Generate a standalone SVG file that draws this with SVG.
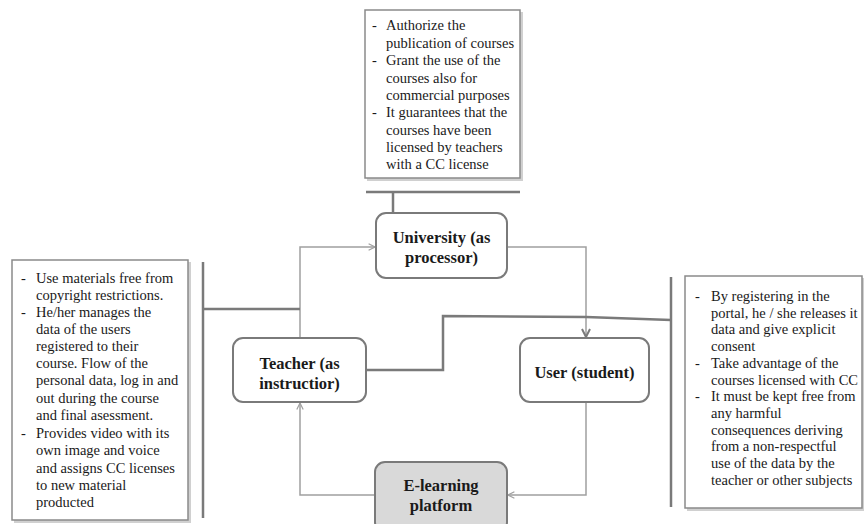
<svg xmlns="http://www.w3.org/2000/svg" width="864" height="524" viewBox="0 0 864 524">
<defs>
<style>
.box{fill:#fff;stroke:#8a8a8a;stroke-width:1.5}
.shadow{fill:#d0d0d0}
.node{fill:#fff;stroke:#7a7a7a;stroke-width:2}
.gray{fill:#d9d9d9;stroke:#7a7a7a;stroke-width:2}
.t{font-family:"Liberation Serif","Times New Roman",serif;font-size:14.5px;fill:#1a1a1a}
.n{font-family:"Liberation Serif","Times New Roman",serif;font-size:16.5px;font-weight:bold;fill:#1a1a1a;text-anchor:middle}
.thin{fill:none;stroke:#a0a0a0;stroke-width:1.5}
.thick{fill:none;stroke:#7a7a7a;stroke-width:2.5}
</style>
<marker id="arr" viewBox="0 0 10 10" refX="9" refY="5" markerWidth="8" markerHeight="8" markerUnits="userSpaceOnUse" orient="auto">
<path d="M1,1 L9,5 L1,9" fill="none" stroke="#a0a0a0" stroke-width="1.5"/>
</marker>
<marker id="arrD" viewBox="0 0 10 10" refX="9" refY="5" markerWidth="10" markerHeight="10" markerUnits="userSpaceOnUse" orient="auto">
<path d="M1,1 L9,5 L1,9" fill="none" stroke="#7a7a7a" stroke-width="2"/>
</marker>
</defs>
<rect width="864" height="524" fill="#fff"/>

<g id="connectors">
<polyline class="thin" points="300,338 300,247 375,247" marker-end="url(#arr)"/>
<polyline class="thin" points="507,247 586,247 586,337" marker-end="url(#arrD)"/>
<polyline class="thin" points="586,402 586,495 508,495" marker-end="url(#arr)"/>
<polyline class="thin" points="375,495 300,495 300,403" marker-end="url(#arr)"/>
<line class="thick" x1="366" y1="192" x2="520" y2="192"/>
<line class="thick" x1="393" y1="192" x2="393" y2="213"/>
<line class="thick" x1="203" y1="262" x2="203" y2="518"/>
<line class="thick" x1="203" y1="309" x2="300" y2="309"/>
<polyline class="thick" points="366,370 443,370 443,316 586,317 671,320"/>
<line class="thick" x1="671" y1="277" x2="671" y2="507"/>
</g>

<g id="note-university">
<rect class="shadow" x="367" y="12" width="156" height="169"/>
<rect class="box" x="365" y="10" width="155" height="168"/>
<text class="t" x="372" y="30">-</text><text class="t" x="386" y="30">Authorize the</text>
<text class="t" x="386" y="47.5">publication of courses</text>
<text class="t" x="372" y="65">-</text><text class="t" x="386" y="65">Grant the use of the</text>
<text class="t" x="386" y="82.5">courses also for</text>
<text class="t" x="386" y="100">commercial purposes</text>
<text class="t" x="372" y="117">-</text><text class="t" x="386" y="117">It guarantees that the</text>
<text class="t" x="386" y="134.5">courses have been</text>
<text class="t" x="386" y="152">licensed by teachers</text>
<text class="t" x="386" y="169">with a CC license</text>
</g>

<g id="note-teacher">
<rect class="shadow" x="14" y="262" width="177" height="261"/>
<rect class="box" x="12" y="260" width="176" height="260"/>
<text class="t" x="21" y="282.5">-</text><text class="t" x="36" y="282.5">Use materials free from</text>
<text class="t" x="36" y="299.5">copyright restrictions.</text>
<text class="t" x="21" y="316.5">-</text><text class="t" x="36" y="316.5">He/her manages the</text>
<text class="t" x="36" y="333.5">data of the users</text>
<text class="t" x="36" y="351">registered to their</text>
<text class="t" x="36" y="368">course. Flow of the</text>
<text class="t" x="36" y="385">personal data, log in and</text>
<text class="t" x="36" y="402.5">out during the course</text>
<text class="t" x="36" y="420">and final asessment.</text>
<text class="t" x="21" y="438">-</text><text class="t" x="36" y="438">Provides video with its</text>
<text class="t" x="36" y="455">own image and voice</text>
<text class="t" x="36" y="472.5">and assigns CC licenses</text>
<text class="t" x="36" y="489.5">to new material</text>
<text class="t" x="36" y="506.5">producted</text>
</g>

<g id="note-user">
<rect class="shadow" x="687" y="278" width="177" height="233"/>
<rect class="box" x="685" y="276" width="177" height="232"/>
<text class="t" x="695" y="301">-</text><text class="t" x="711" y="301">By registering in the</text>
<text class="t" x="711" y="317.5">portal, he / she releases it</text>
<text class="t" x="711" y="334">data and give explicit</text>
<text class="t" x="711" y="351">consent</text>
<text class="t" x="695" y="368">-</text><text class="t" x="711" y="368">Take advantage of the</text>
<text class="t" x="711" y="384.5">courses licensed with CC</text>
<text class="t" x="695" y="401">-</text><text class="t" x="711" y="401">It must be kept free from</text>
<text class="t" x="711" y="418">any harmful</text>
<text class="t" x="711" y="434.5">consequences deriving</text>
<text class="t" x="711" y="451">from a non-respectful</text>
<text class="t" x="711" y="468">use of the data by the</text>
<text class="t" x="711" y="484.5">teacher or other subjects</text>
</g>

<g id="university">
<rect class="node" x="376" y="213" width="131" height="65" rx="10"/>
<text class="n" x="441.5" y="243">University (as</text>
<text class="n" x="441.5" y="262.5">processor)</text>
</g>

<g id="teacher">
<rect class="node" x="233" y="338" width="133" height="64" rx="10"/>
<text class="n" x="299.5" y="368.5">Teacher (as</text>
<text class="n" x="299.5" y="388.5">instructior)</text>
</g>

<g id="user">
<rect class="node" x="520" y="338" width="129" height="64" rx="10"/>
<text class="n" x="584.5" y="377.5">User (student)</text>
</g>

<g id="elearning">
<rect class="gray" x="375" y="462" width="132" height="70" rx="10"/>
<text class="n" x="441" y="491">E-learning</text>
<text class="n" x="441" y="510.5">platform</text>
</g>
</svg>
